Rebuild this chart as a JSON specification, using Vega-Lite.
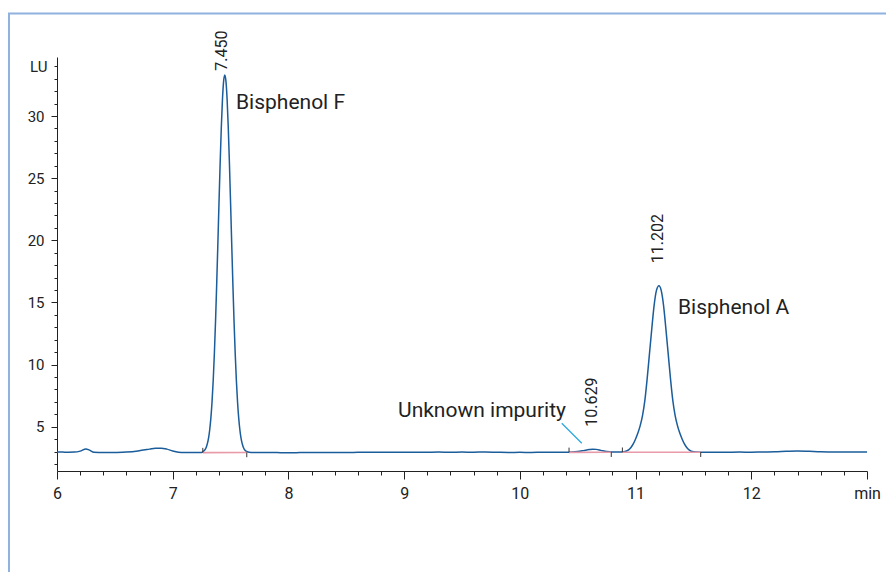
{
  "$schema": "https://vega.github.io/schema/vega-lite/v6.json",
  "width": 810,
  "height": 414,
  "autosize": {"type": "none"},
  "padding": {"left": 57, "top": 57, "right": 19, "bottom": 101},
  "background": "white",
  "config": {"view": {"stroke": null}, "font": "Roboto, sans-serif"},
  "datasets": {
    "frame": [{"x1": 5.585, "x2": 13.6, "y1": 38.24, "y2": -12}],
    "trace": [
      {"t": 6.0, "v": 2.97}, {"t": 6.05, "v": 2.96}, {"t": 6.1, "v": 2.95}, {"t": 6.15, "v": 2.96},
      {"t": 6.2, "v": 3.04}, {"t": 6.25, "v": 3.22}, {"t": 6.28, "v": 3.12}, {"t": 6.32, "v": 2.95},
      {"t": 6.4, "v": 2.92}, {"t": 6.5, "v": 2.93}, {"t": 6.6, "v": 2.96}, {"t": 6.7, "v": 3.05},
      {"t": 6.8, "v": 3.2}, {"t": 6.85, "v": 3.28}, {"t": 6.9, "v": 3.28}, {"t": 6.95, "v": 3.2},
      {"t": 7.0, "v": 3.05}, {"t": 7.05, "v": 2.95}, {"t": 7.1, "v": 2.92}, {"t": 7.15, "v": 2.92},
      {"t": 7.2, "v": 2.92}, {"t": 7.25, "v": 2.93}, {"t": 7.27, "v": 3.06}, {"t": 7.29, "v": 3.36},
      {"t": 7.3, "v": 3.66}, {"t": 7.31, "v": 4.11}, {"t": 7.32, "v": 4.78}, {"t": 7.33, "v": 5.73},
      {"t": 7.34, "v": 7.03}, {"t": 7.35, "v": 8.74}, {"t": 7.36, "v": 10.89}, {"t": 7.37, "v": 13.47},
      {"t": 7.38, "v": 16.44}, {"t": 7.39, "v": 19.68}, {"t": 7.4, "v": 23.02}, {"t": 7.41, "v": 26.24},
      {"t": 7.42, "v": 29.1}, {"t": 7.43, "v": 31.36}, {"t": 7.44, "v": 32.81}, {"t": 7.45, "v": 33.3},
      {"t": 7.46, "v": 32.81}, {"t": 7.47, "v": 31.36}, {"t": 7.48, "v": 29.1}, {"t": 7.49, "v": 26.24},
      {"t": 7.5, "v": 23.02}, {"t": 7.51, "v": 19.68}, {"t": 7.52, "v": 16.44}, {"t": 7.53, "v": 13.47},
      {"t": 7.54, "v": 10.89}, {"t": 7.55, "v": 8.74}, {"t": 7.56, "v": 7.03}, {"t": 7.57, "v": 5.73},
      {"t": 7.58, "v": 4.78}, {"t": 7.59, "v": 4.11}, {"t": 7.6, "v": 3.66}, {"t": 7.61, "v": 3.36},
      {"t": 7.63, "v": 3.06}, {"t": 7.66, "v": 2.95}, {"t": 7.7, "v": 2.93}, {"t": 7.8, "v": 2.93},
      {"t": 7.9, "v": 2.92}, {"t": 8.0, "v": 2.91}, {"t": 8.1, "v": 2.92}, {"t": 8.2, "v": 2.93},
      {"t": 8.3, "v": 2.92}, {"t": 8.4, "v": 2.93}, {"t": 8.5, "v": 2.92}, {"t": 8.6, "v": 2.94},
      {"t": 8.7, "v": 2.95}, {"t": 8.8, "v": 2.94}, {"t": 8.9, "v": 2.95}, {"t": 9.0, "v": 2.95},
      {"t": 9.1, "v": 2.94}, {"t": 9.2, "v": 2.95}, {"t": 9.3, "v": 2.96}, {"t": 9.4, "v": 2.95},
      {"t": 9.5, "v": 2.96}, {"t": 9.6, "v": 2.95}, {"t": 9.7, "v": 2.97}, {"t": 9.8, "v": 2.95},
      {"t": 9.9, "v": 2.93}, {"t": 10.0, "v": 2.94}, {"t": 10.1, "v": 2.93}, {"t": 10.2, "v": 2.95},
      {"t": 10.3, "v": 2.94}, {"t": 10.4, "v": 2.95}, {"t": 10.45, "v": 2.96}, {"t": 10.5, "v": 3.0},
      {"t": 10.55, "v": 3.08}, {"t": 10.6, "v": 3.17}, {"t": 10.63, "v": 3.2}, {"t": 10.66, "v": 3.18},
      {"t": 10.7, "v": 3.1}, {"t": 10.75, "v": 3.0}, {"t": 10.8, "v": 2.96}, {"t": 10.85, "v": 2.96},
      {"t": 10.9, "v": 2.99}, {"t": 10.94, "v": 3.14}, {"t": 10.96, "v": 3.33}, {"t": 10.98, "v": 3.62},
      {"t": 11.0, "v": 4.02}, {"t": 11.02, "v": 4.49}, {"t": 11.04, "v": 5.09}, {"t": 11.06, "v": 5.9},
      {"t": 11.08, "v": 7.1}, {"t": 11.1, "v": 8.85}, {"t": 11.12, "v": 10.86}, {"t": 11.14, "v": 12.87},
      {"t": 11.16, "v": 14.74}, {"t": 11.18, "v": 15.95}, {"t": 11.202, "v": 16.35}, {"t": 11.222, "v": 15.95},
      {"t": 11.242, "v": 14.74}, {"t": 11.262, "v": 12.87}, {"t": 11.282, "v": 10.86}, {"t": 11.302, "v": 8.85},
      {"t": 11.322, "v": 7.1}, {"t": 11.342, "v": 5.9}, {"t": 11.362, "v": 5.09}, {"t": 11.382, "v": 4.49},
      {"t": 11.402, "v": 4.02}, {"t": 11.422, "v": 3.62}, {"t": 11.442, "v": 3.33}, {"t": 11.462, "v": 3.14},
      {"t": 11.502, "v": 2.99}, {"t": 11.6, "v": 2.95}, {"t": 11.7, "v": 2.94}, {"t": 11.8, "v": 2.95},
      {"t": 11.9, "v": 2.96}, {"t": 12.0, "v": 2.95}, {"t": 12.1, "v": 2.97}, {"t": 12.2, "v": 2.98},
      {"t": 12.3, "v": 3.02}, {"t": 12.4, "v": 3.05}, {"t": 12.5, "v": 3.02}, {"t": 12.6, "v": 2.98},
      {"t": 12.7, "v": 2.97}, {"t": 12.8, "v": 2.96}, {"t": 12.9, "v": 2.97}, {"t": 13.0, "v": 2.96}
    ],
    "baselines": [
      {"seg": "F", "t": 7.26, "v": 2.92}, {"seg": "F", "t": 7.64, "v": 2.93},
      {"seg": "U", "t": 10.425, "v": 2.94}, {"seg": "U", "t": 10.79, "v": 2.95},
      {"seg": "A", "t": 10.886, "v": 2.95}, {"seg": "A", "t": 11.563, "v": 2.95}
    ],
    "events": [
      {"t": 7.26, "v": 2.92, "v2": 3.3}, {"t": 7.64, "v": 2.93, "v2": 2.55},
      {"t": 10.425, "v": 2.94, "v2": 3.32}, {"t": 10.79, "v": 2.95, "v2": 2.57},
      {"t": 10.886, "v": 2.95, "v2": 3.33}, {"t": 11.563, "v": 2.95, "v2": 2.57}
    ],
    "rt": [
      {"t": 7.425, "v": 33.65, "label": "7.450"},
      {"t": 10.621, "v": 5.0, "label": "10.629"},
      {"t": 11.197, "v": 18.16, "label": "11.202"}
    ],
    "names": [
      {"t": 7.547, "v": 30.56, "label": "Bisphenol F"},
      {"t": 11.367, "v": 14.08, "label": "Bisphenol A"},
      {"t": 8.947, "v": 5.81, "label": "Unknown impurity"}
    ],
    "leader": [
      {"t": 10.362, "v": 5.28}, {"t": 10.535, "v": 3.67}
    ]
  },
  "encoding": {
    "x": {
      "field": "t", "type": "quantitative",
      "scale": {"domain": [6, 13], "nice": false, "zero": false},
      "axis": {
        "title": null, "grid": false,
        "values": [6,6.2,6.4,6.6,6.8,7,7.2,7.4,7.6,7.8,8,8.2,8.4,8.6,8.8,9,9.2,9.4,9.6,9.8,10,10.2,10.4,10.6,10.8,11,11.2,11.4,11.6,11.8,12,12.2,12.4,12.6,12.8,13],
        "labelExpr": "abs(datum.value-round(datum.value))<0.01 ? (datum.value>12.5 ? 'min' : format(datum.value,'d')) : ''",
        "tickSize": {"condition": {"test": "abs(datum.value-round(datum.value))<0.01", "value": 8}, "value": 4},
        "labelFlush": false, "labelOverlap": false, "labelPadding": 6,
        "labelFontSize": 16, "labelColor": "#222", "domainColor": "#222", "tickColor": "#222",
        "domainWidth": 1, "tickWidth": 1
      }
    },
    "y": {
      "field": "v", "type": "quantitative",
      "scale": {"domain": [1.44, 34.75], "nice": false, "zero": false},
      "axis": {
        "title": null, "grid": false,
        "values": [2,3,4,5,6,7,8,9,10,11,12,13,14,15,16,17,18,19,20,21,22,23,24,25,26,27,28,29,30,31,32,33,34],
        "labelExpr": "datum.value==34 ? 'LU' : (datum.value%5==0 ? datum.label : '')",
        "tickSize": {"condition": {"test": "datum.value%5==0", "value": 6}, "value": 3},
        "labelOverlap": false, "labelPadding": 7,
        "labelFontSize": 15, "labelColor": "#222", "domainColor": "#222", "tickColor": "#222",
        "domainWidth": 1, "tickWidth": 1
      }
    }
  },
  "layer": [
    {
      "data": {"name": "frame"},
      "mark": {"type": "rect", "fillOpacity": 0, "fill": "white", "stroke": "#8fb2de", "strokeWidth": 2, "clip": false},
      "encoding": {
        "x": {"field": "x1", "type": "quantitative"}, "x2": {"field": "x2"},
        "y": {"field": "y1", "type": "quantitative"}, "y2": {"field": "y2"}
      }
    },
    {
      "data": {"name": "trace"},
      "mark": {"type": "line", "color": "#1b5c9a", "strokeWidth": 1.5, "interpolate": "monotone"}
    },
    {
      "data": {"name": "baselines"},
      "mark": {"type": "line", "color": "#e89aa8", "strokeWidth": 1.6},
      "encoding": {"detail": {"field": "seg"}}
    },
    {
      "data": {"name": "events"},
      "mark": {"type": "rule", "color": "#333", "strokeWidth": 1},
      "encoding": {"y2": {"field": "v2"}}
    },
    {
      "data": {"name": "leader"},
      "mark": {"type": "line", "color": "#29a8e0", "strokeWidth": 1.2}
    },
    {
      "data": {"name": "rt"},
      "mark": {"type": "text", "angle": 270, "align": "left", "baseline": "middle", "fontSize": 16, "color": "#222"},
      "encoding": {"text": {"field": "label"}}
    },
    {
      "data": {"name": "names"},
      "mark": {"type": "text", "align": "left", "baseline": "alphabetic", "fontSize": 21, "color": "#222"},
      "encoding": {"text": {"field": "label"}}
    }
  ]
}
